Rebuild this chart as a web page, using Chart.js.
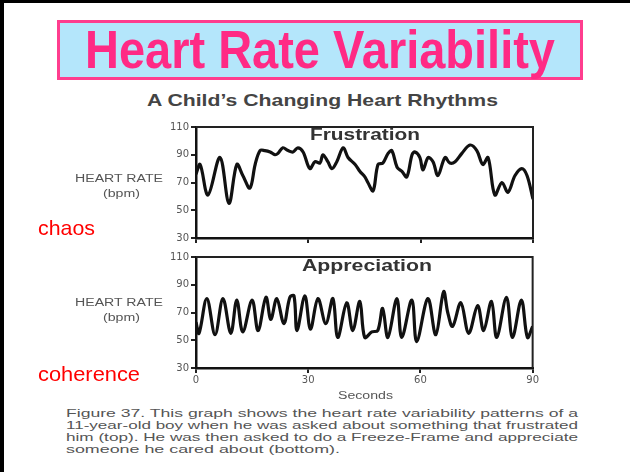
<!DOCTYPE html>
<html>
<head>
<meta charset="utf-8">
<script src="https://cdn.jsdelivr.net/npm/chart.js@4/dist/chart.umd.min.js"></script>
<style>
  html, body { margin:0; padding:0; background:#fff; }
  #page { position:relative; width:630px; height:472px; overflow:hidden; background:#fff; font-family:"Liberation Sans", Arial, sans-serif; }
  #bl { position:absolute; left:0; top:0; width:4px; height:472px; background:#000; }
  #bt { position:absolute; left:0; top:0; width:630px; height:3px; background:#000; }
  #tbox { position:absolute; left:57px; top:20px; width:526px; height:60px; box-sizing:border-box; border:3px solid #ff3d8e; background:#b4e6fb; }
  .lbl { position:absolute; white-space:nowrap; transform-origin:0 0; }
  canvas { position:absolute; }
</style>
</head>
<body>
<div id="page">
  <div id="bl"></div><div id="bt"></div>
  <div id="tbox"></div>
  <canvas id="c1" width="390" height="131" style="left:150px;top:117px;width:390px;height:131px"></canvas>
  <canvas id="c2" width="390" height="141" style="left:150px;top:247px;width:390px;height:141px"></canvas>
</div>
<script>
// ---- data ----
const xTicks = [0, 30, 60, 90];
const yTicks = [30, 50, 70, 90, 110];
const frustrationSeconds = [0,1.1,3.2,6.4,8.8,10.9,12.5,14.4,15.8,17.1,18.4,19.8,21.1,21.9,23.2,24.6,25.9,27.2,28.6,30.4,31.8,33.1,33.9,35.2,36.3,37.6,39.3,40.6,42.5,43.8,45.1,45.9,47.3,48.6,49.9,51.3,52.3,53.7,55,56.3,57.7,58.5,59.8,60.6,62,63.3,64.6,66.5,67.8,69.2,71,73.2,75,76.6,78,79.8,81.7,83.3,85.2,87,88.4,90];
const frustrationBpm = [76,83,61,88,55,83,75,66,83,93,93,92,90,91,95,93,92,95,92,80,85,84,90,85,80,85,95,88,83,78,74,70,64,83,84,91,93,81,78,74,90,92,88,79,88,85,75,88,84,85,91,97,93,83,88,61,70,63,75,80,75,58];
const appreciationSeconds = [0,0.8,2.9,5.1,7.2,9.3,10.9,12.5,15,16.6,18.7,20,21.6,23.5,25.1,26.2,27,29.1,30.6,32.6,34.7,36.6,37.9,40.3,41.9,43.8,45.1,47,48.6,49.9,51.3,53.7,55,57.7,59,62,64.1,66.2,67.3,68.6,70.8,72.9,75.3,76.9,79,80.4,83,84.6,87,88.6,90];
const appreciationBpm = [63,55,80,54,80,55,79,56,79,57,81,65,80,62,81,82,57,82,58,80,62,80,52,77,57,78,52,56,57,73,52,80,52,79,49,80,54,85,70,60,77,55,75,57,78,52,81,52,79,52,60];

// ---- text labels ----
const labels = [
  ["Heart Rate Variability", 85, 68, "bold 54px 'Liberation Sans'", 470, "#ff2a85"],
  ["A Child\u2019s Changing Heart Rhythms", 147, 106, "bold 17px 'Liberation Sans'", 351, "#444"],
  ["Frustration", 310, 141, "bold 16px 'Liberation Sans'", 110, "#333"],
  ["Appreciation", 302, 272, "bold 16px 'Liberation Sans'", 130, "#333"],
  ["HEART RATE", 75, 182, "10px 'Liberation Sans'", 88, "#555"],
  ["(bpm)", 103, 197, "10px 'Liberation Sans'", 37, "#555"],
  ["HEART RATE", 75, 306, "10px 'Liberation Sans'", 88, "#555"],
  ["(bpm)", 103, 321, "10px 'Liberation Sans'", 37, "#555"],
  ["Seconds", 338, 399, "10px 'Liberation Sans'", 55, "#555"],
  ["chaos", 38, 235, "21px 'Liberation Sans'", 57, "#ff0000"],
  ["coherence", 38, 381, "21px 'Liberation Sans'", 102, "#ff0000"],
  ["Figure 37. This graph shows the heart rate variability patterns of a", 66, 417, "11px 'Liberation Sans'", 512, "#555"],
  ["11-year-old boy when he was asked about something that frustrated", 66, 429, "11px 'Liberation Sans'", 512, "#555"],
  ["him (top). He was then asked to do a Freeze-Frame and appreciate", 66, 441, "11px 'Liberation Sans'", 512, "#555"],
  ["someone he cared about (bottom).", 66, 453, "11px 'Liberation Sans'", 274, "#555"]
];
const page = document.getElementById('page');
labels.forEach(([t, x, base, font, w, col]) => {
  const d = document.createElement('div');
  d.className = 'lbl';
  d.textContent = t;
  d.style.font = font;
  const size = parseFloat(font.match(/(\d+)px/)[1]);
  d.style.lineHeight = size + 'px';
  d.style.left = x + 'px';
  d.style.top = (base - 0.847 * size) + 'px';
  d.style.color = col;
  page.appendChild(d);
  const nat = d.getBoundingClientRect().width;
  d.style.transform = 'scaleX(' + (w / nat) + ')';
});

// ---- charts ----
const framePlugin = {
  id: 'frame',
  afterDraw(chart) {
    const a = chart.chartArea, ctx = chart.ctx;
    ctx.save();
    ctx.strokeStyle = '#222';
    ctx.lineWidth = 2;
    ctx.beginPath();
    ctx.moveTo(a.left, a.top);
    ctx.lineTo(a.right, a.top);
    ctx.lineTo(a.right, a.bottom);
    ctx.stroke();
    ctx.restore();
  }
};

function makeChart(id, xs, ys, showX) {
  const pts = xs.map((t, i) => ({ x: t, y: ys[i] }));
  return new Chart(document.getElementById(id), {
    type: 'line',
    data: { datasets: [{ data: pts, borderColor: '#111', borderWidth: 3.2, pointRadius: 0, tension: 0.35, fill: false }] },
    options: {
      responsive: false, animation: false, devicePixelRatio: 1,
      layout: { padding: { top: 10, right: 7, left: 0, bottom: 0 } },
      plugins: { legend: { display: false }, tooltip: { enabled: false } },
      scales: {
        x: {
          type: 'linear', min: xTicks[0], max: xTicks[xTicks.length - 1],
          afterBuildTicks: s => { s.ticks = xTicks.map(v => ({ value: v })); },
          ticks: { display: showX, font: { family: 'DejaVu Sans', size: 10 }, color: '#555', padding: 1, maxRotation: 0 },
          grid: { drawOnChartArea: false, drawTicks: true, tickLength: 5, color: '#222', lineWidth: 2 },
          border: { display: true, color: '#111', width: 2.5 },
          afterFit: s => { s.height = showX ? 20 : 10; }
        },
        y: {
          min: yTicks[0], max: yTicks[yTicks.length - 1],
          afterBuildTicks: s => { s.ticks = yTicks.map(v => ({ value: v })); },
          ticks: { font: { family: 'DejaVu Sans', size: 10 }, color: '#555', padding: 2 },
          grid: { drawOnChartArea: false, drawTicks: true, tickLength: 5, color: '#222', lineWidth: 2 },
          border: { display: true, color: '#111', width: 2.5 },
          afterFit: s => { s.width = 46; }
        }
      }
    },
    plugins: [framePlugin]
  });
}
makeChart('c1', frustrationSeconds, frustrationBpm, false);
makeChart('c2', appreciationSeconds, appreciationBpm, true);
</script>
</body>
</html>
